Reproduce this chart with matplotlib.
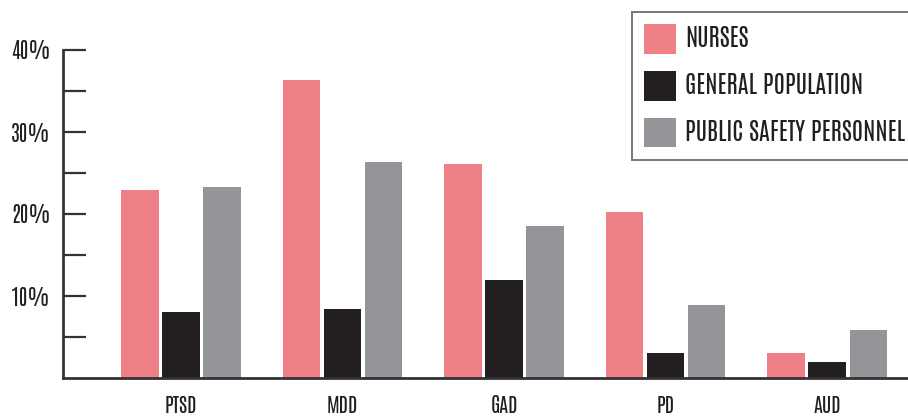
import numpy as np
import matplotlib
matplotlib.use("Agg")
import matplotlib.pyplot as plt

# prevalence (%) by disorder and group
DISORDERS = ["PTSD", "MDD", "GAD", "PD", "AUD"]
NURSES = [22.9, 36.4, 26.1, 20.2, 3.1]
GENERAL = [8.0, 8.4, 12.0, 3.0, 1.9]
PUBLIC_SAFETY = [23.3, 26.3, 18.5, 8.9, 5.8]
GROUPS = ["NURSES", "GENERAL POPULATION", "PUBLIC SAFETY PERSONNEL"]
YTICKS = [5, 10, 15, 20, 25, 30, 35, 40]
YLABELS = ["", "10%", "", "20%", "", "30%", "", "40%"]

C_NURSE, C_GEN, C_PSP = "#f08087", "#231f20", "#939598"
AXC = "#333333"
TXT = "#231f20"

plt.rcParams["font.family"] = ["Antonio", "DejaVu Sans"]

W, H = 908, 417
fig = plt.figure(figsize=(W / 100, H / 100), dpi=100)
ax = fig.add_axes([63 / W, 39 / H, 845 / W, 328 / H])

x = np.arange(len(DISORDERS))
bw, step = 0.232, 0.254
series = [(NURSES, C_NURSE), (GENERAL, C_GEN), (PUBLIC_SAFETY, C_PSP)]
handles = []
for i, ((vals, col), name) in enumerate(zip(series, GROUPS)):
    b = ax.bar(x + (i - 1) * step, vals, width=bw, color=col, label=name,
               zorder=2)
    handles.append(b)

ax.set_xlim(-0.73, 4.50)
ax.set_ylim(0, 40)
ax.set_yticks(YTICKS)
ax.set_yticklabels(YLABELS)
ax.set_xticks(x)
ax.set_xticklabels(DISORDERS)

for s in ("top", "right"):
    ax.spines[s].set_visible(False)
for s in ("left", "bottom"):
    ax.spines[s].set_color(AXC)
    ax.spines[s].set_linewidth(2)

ax.tick_params(axis="y", direction="in", length=16.5, width=1.6, color=AXC,
               pad=9, labelsize=15, labelcolor=TXT)
ax.tick_params(axis="x", length=0, pad=12, labelsize=14.5, labelcolor=TXT)

fs = 17.6
leg = ax.legend(handles=handles, loc="upper left",
                bbox_to_anchor=(632 / W, 1 - 12 / H),
                bbox_transform=fig.transFigure, borderaxespad=0,
                fontsize=fs, frameon=True, fancybox=False,
                handlelength=1.3, handleheight=1.5, handletextpad=0.37,
                labelspacing=0.69, borderpad=0.5)
leg.get_frame().set_edgecolor("#555555")
leg.get_frame().set_linewidth(1.4)
for t in leg.get_texts():
    t.set_color(TXT)

fig.savefig("out.png", dpi=100)
